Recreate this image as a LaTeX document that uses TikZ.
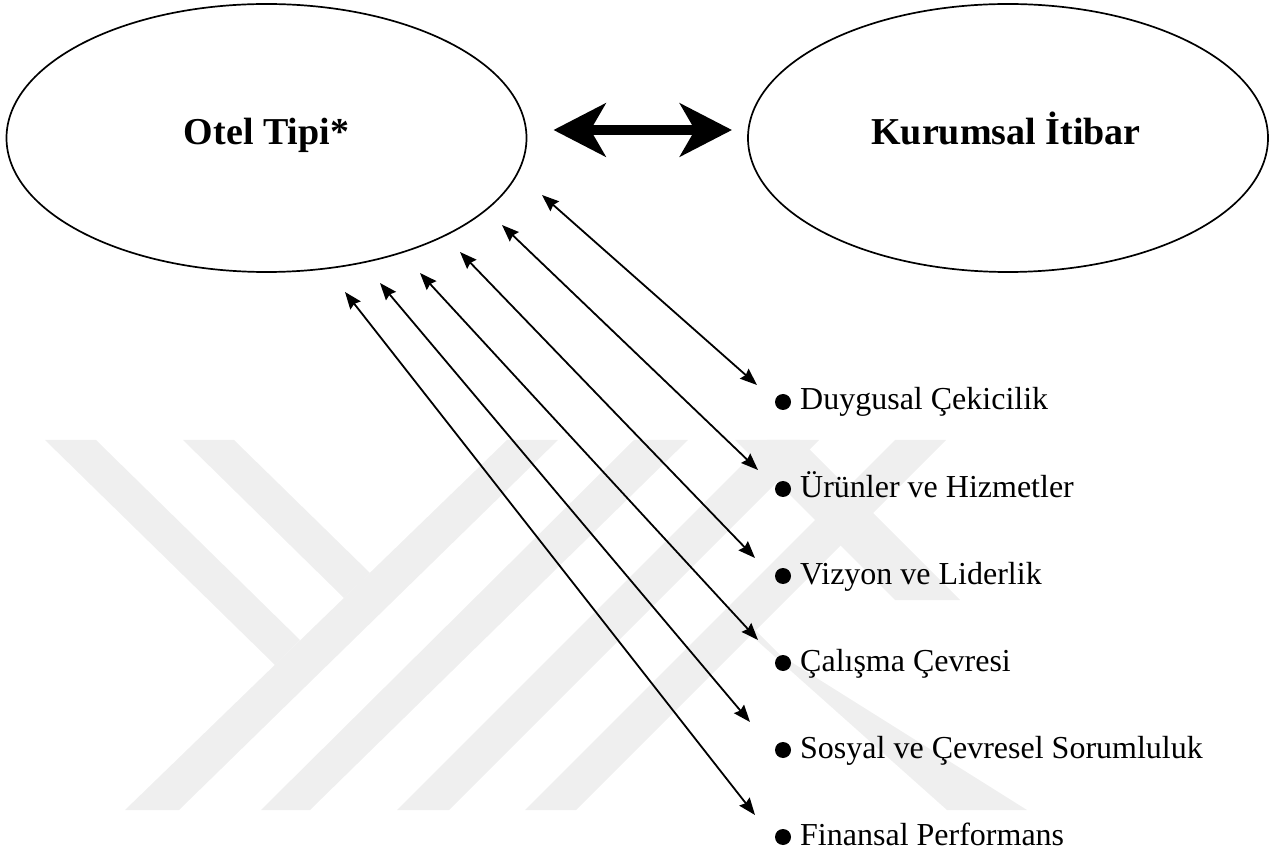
\documentclass[tikz,border=0pt]{standalone}
\usepackage{fontspec}
\setmainfont{Liberation Serif}
\usetikzlibrary{shapes.geometric,arrows.meta}
\definecolor{wm}{HTML}{EFEFEF}
\begin{document}
\begin{tikzpicture}[x=1pt,y=-1pt,
  oval/.style={draw, ellipse, line width=1.7pt, minimum width=520pt, minimum height=268pt, inner sep=0pt, outer sep=0pt},
  title/.style={font=\fontsize{38}{42}\selectfont\bfseries, anchor=base, inner sep=0pt},
  item/.style={font=\fontsize{32}{36}\selectfont, anchor=base west, inner sep=0pt},
  dot/.style={circle, fill=black, minimum size=16pt, inner sep=0pt},
  link/.style={line width=1.8pt, {Stealth[length=17pt,width=13pt,inset=2pt]}-{Stealth[length=17pt,width=13pt,inset=2pt]}},
  big/.style={line width=10pt, {Stealth[length=52pt,width=53pt,inset=15pt]}-{Stealth[length=52pt,width=53pt,inset=15pt]}},
  mark/.style={fill=wm, draw=none}
]
\useasboundingbox (0,0) rectangle (1286,858);

% faint watermark
\fill[wm] (45,440) -- (96,440) -- (300,640) -- (275,665) -- cycle;
\fill[wm] (183,440) -- (234,440) -- (370,573) -- (344,598) -- cycle;
\fill[wm] (507,440) -- (558,440) -- (179,810) -- (125,810) -- cycle;
\fill[wm] (634,440) -- (688,440) -- (310,810) -- (261,810) -- cycle;
\fill[wm] (767,440) -- (819,440) -- (449,810) -- (397,810) -- cycle;
\fill[wm] (895,440) -- (946,440) -- (576,810) -- (525,810) -- cycle;
\fill[wm] (735,440) -- (800,440) -- (960,600) -- (895,600) -- cycle;
\fill[wm] (750,625) -- (780,655) -- (1027,810) -- (947,810) -- (745,630) -- cycle;

% ellipses
\node[oval] (otel) at (266.5,138) {};
\node[oval] (kur) at (1008,138) {};
\node[title] (otelt) at (266.5,145) {Otel Tipi*};
\node[title] (kurt) at (1006,145) {Kurumsal İtibar};

% big double arrow
\draw[big, shorten <=27pt, shorten >=16pt] ([yshift=8pt]otel.east) -- ([yshift=8pt]kur.west);

% list items
\foreach \i/\t in {1/Duygusal Çekicilik, 2/Ürünler ve Hizmetler, 3/Vizyon ve Liderlik, 4/Çalışma Çevresi, 5/Sosyal ve Çevresel Sorumluluk, 6/Finansal Performans}{
  \pgfmathsetmacro{\yb}{410+87*(\i-1)}
  \node[dot] (d\i) at (783,\yb-8) {};
  \node[item] (i\i) at (800,\yb) {\t};
}

% arrow end points
\coordinate (s1) at (542,195);  \coordinate (e1) at (757,385);
\coordinate (s2) at (502,225);  \coordinate (e2) at (758,470);
\coordinate (s3) at (460,252);  \coordinate (e3) at (755,558);
\coordinate (s4) at (420,273);  \coordinate (e4) at (758,640);
\coordinate (s5) at (380,283);  \coordinate (e5) at (750,722);
\coordinate (s6) at (345,292);  \coordinate (e6) at (755,815);

\foreach \i in {1,...,6}{
  \draw[link] (s\i) -- (e\i);
}
\end{tikzpicture}
\end{document}
